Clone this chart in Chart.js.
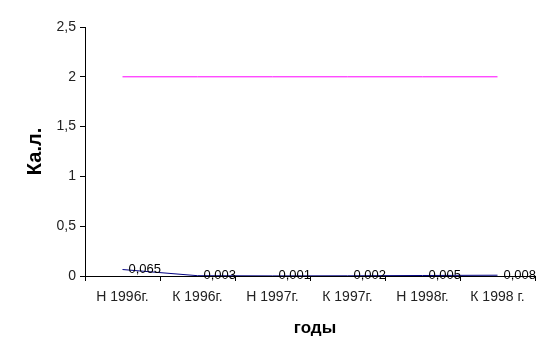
<!DOCTYPE html>
<html>
<head>
<meta charset="utf-8">
<script src="https://cdn.jsdelivr.net/npm/chart.js@4/dist/chart.umd.min.js"></script>
<style>
html,body{margin:0;padding:0;background:#fff;}
#wrap{width:551px;height:361px;position:relative;}
</style>
</head>
<body>
<div id="wrap"><canvas id="c" width="551" height="361"></canvas></div>
<script>
const categories = ["Н 1996г.", "К 1996г.", "Н 1997г.", "К 1997г.", "Н 1998г.", "К 1998 г."];
const seriesMain = [0.065, 0.003, 0.001, 0.002, 0.005, 0.008];
const seriesLimit = [2, 2, 2, 2, 2, 2];
const yTicks = [0, 0.5, 1, 1.5, 2, 2.5];
const yTitle = "Ка.л.";
const xTitle = "годы";

const FONT = '"Liberation Sans", Arial, sans-serif';
const fmt = v => String(v).replace('.', ',');

const labelPlugin = {
  id: 'pointLabels',
  afterDatasetsDraw(chart) {
    const ctx = chart.ctx;
    const meta = chart.getDatasetMeta(0);
    ctx.save();
    ctx.font = '13px ' + FONT;
    ctx.fillStyle = '#000';
    ctx.textAlign = 'left';
    ctx.textBaseline = 'middle';
    meta.data.forEach((pt, i) => {
      ctx.fillText(fmt(seriesMain[i]), pt.x + 6, pt.y);
    });
    ctx.restore();
  }
};

const titlePlugin = {
  id: 'axisTitles',
  afterDraw(chart) {
    const ctx = chart.ctx;
    const a = chart.chartArea;
    ctx.save();
    ctx.fillStyle = '#000';
    ctx.textAlign = 'center';
    ctx.textBaseline = 'middle';
    ctx.font = 'bold 17px ' + FONT;
    ctx.fillText(xTitle, (a.left + a.right) / 2 + 5, a.bottom + 52);
    ctx.translate(a.left - 50, (a.top + a.bottom) / 2);
    ctx.rotate(-Math.PI / 2);
    ctx.font = 'bold 20px ' + FONT;
    ctx.fillText(yTitle, 0, 0);
    ctx.restore();
  }
};

new Chart(document.getElementById('c'), {
  type: 'line',
  data: {
    labels: categories,
    datasets: [
      {
        data: seriesMain,
        borderColor: '#000080',
        borderWidth: 1,
        pointRadius: 0,
        tension: 0,
        fill: false
      },
      {
        data: seriesLimit,
        borderColor: '#FF00FF',
        borderWidth: 1,
        pointRadius: 0,
        tension: 0,
        fill: false
      }
    ]
  },
  options: {
    responsive: false,
    animation: false,
    devicePixelRatio: 1,
    layout: { padding: { left: 0, right: 16, top: 27, bottom: 0 } },
    plugins: { legend: { display: false }, tooltip: { enabled: false } },
    scales: {
      x: {
        type: 'category',
        offset: true,
        grid: { offset: true, drawOnChartArea: false, drawTicks: true, tickLength: 5, color: '#000', tickColor: '#000' },
        border: { color: '#000', width: 1 },
        ticks: { color: '#222', font: { family: FONT, size: 14 }, padding: 8, maxRotation: 0, autoSkip: false },
        afterFit(scale) { scale.height = 85; }
      },
      y: {
        min: 0,
        max: 2.5,
        afterBuildTicks(scale) { scale.ticks = yTicks.map(v => ({ value: v })); },
        grid: { drawOnChartArea: false, drawTicks: true, tickLength: 5, color: '#000', tickColor: '#000' },
        border: { color: '#000', width: 1 },
        ticks: { color: '#222', font: { family: FONT, size: 14 }, padding: 4, callback: v => fmt(v) },
        afterFit(scale) { scale.width = 85; }
      }
    }
  },
  plugins: [labelPlugin, titlePlugin]
});
</script>
</body>
</html>
